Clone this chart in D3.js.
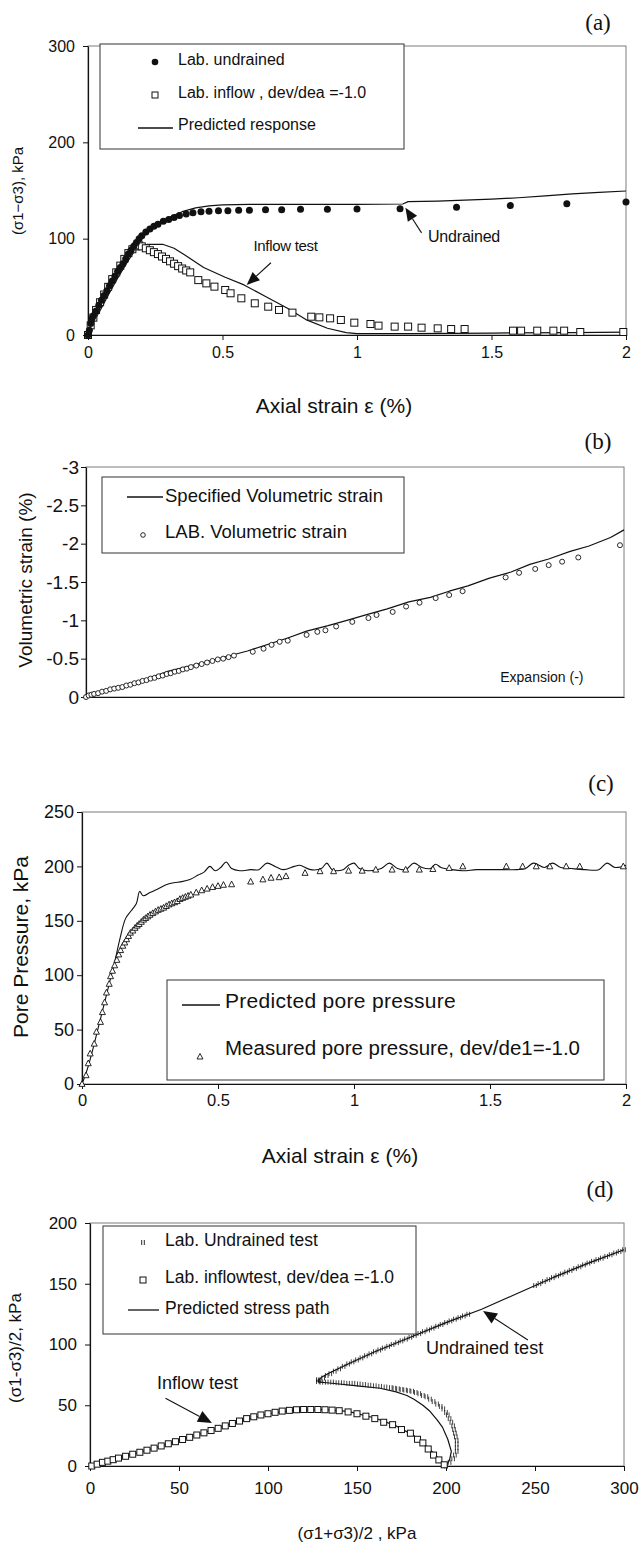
<!DOCTYPE html>
<html><head><meta charset="utf-8">
<script src="https://cdn.jsdelivr.net/npm/d3@7"></script>
<style>body{margin:0;background:#fff}svg{display:block}</style>
</head><body>
<svg id="c" width="640" height="1545"></svg>
<script>
// ---------- DATA ----------
// (a) deviator stress vs axial strain
const strainTicks = [0, 0.5, 1, 1.5, 2];
const strainLabels = ["0", "0.5", "1", "1.5", "2"];
const devTicks = [0, 100, 200, 300];
const devLabels = ["0", "100", "200", "300"];
const labUndrainedA = [[0,0],[0.005,5],[0.01,12],[0.015,17],[0.02,20],[0.03,25],[0.04,31],[0.05,36],[0.06,41],[0.07,46],[0.08,51],[0.09,56],[0.10,61],[0.11,66],[0.12,70],[0.13,74],[0.14,79],[0.15,84],[0.16,88],[0.17,92],[0.18,96],[0.19,100],[0.20,103],[0.215,107],[0.23,110],[0.245,113],[0.26,115],[0.28,118],[0.30,120],[0.32,122],[0.34,124],[0.365,125.5],[0.39,127],[0.42,128],[0.45,128.5],[0.485,129],[0.52,129],[0.56,129.5],[0.60,129.5],[0.66,130],[0.72,130],[0.79,130.5],[0.89,130.5],[1.0,130.8],[1.16,131],[1.37,132.5],[1.57,134.3],[1.78,136.3],[2.0,138]];
const labInflowA = [[0,0],[0.01,10],[0.02,18],[0.03,26],[0.045,34],[0.06,42],[0.075,50],[0.09,58],[0.105,65],[0.12,72],[0.135,79],[0.15,85],[0.165,89],[0.18,92],[0.19,93],[0.2,92],[0.215,90],[0.23,88],[0.245,86],[0.26,84],[0.275,81.5],[0.29,79],[0.305,76.5],[0.32,74],[0.335,71.5],[0.35,69],[0.365,67],[0.38,65],[0.41,57],[0.44,53.6],[0.47,50.2],[0.51,46.7],[0.53,43.3],[0.57,38.1],[0.62,32.9],[0.67,29.4],[0.71,26],[0.76,23.2],[0.83,19],[0.86,18.3],[0.9,17.3],[0.94,15.6],[0.99,12.8],[1.05,11.4],[1.08,9.7],[1.14,8.7],[1.19,8.7],[1.24,7.6],[1.3,6.9],[1.35,6.2],[1.4,6.2],[1.58,4.5],[1.61,4.5],[1.67,4.5],[1.73,4.5],[1.77,4.5],[1.83,3.1],[1.99,3.1]];
const predUndrainedA = [[0,0],[0.02,15],[0.05,32],[0.08,48],[0.11,63],[0.14,77],[0.17,90],[0.2,101],[0.25,113],[0.3,122],[0.35,128],[0.4,132],[0.45,134],[0.5,135],[0.6,135.5],[0.8,135.5],[1.0,135.5],[1.17,136],[1.19,138.5],[1.3,139],[1.4,140],[1.5,141],[1.6,142.5],[1.7,144.5],[1.8,146.5],[1.9,148],[2.0,149.5]];
const predInflowA = [[0,0],[0.02,13],[0.05,28],[0.08,44],[0.11,59],[0.14,73],[0.17,86],[0.19,92],[0.22,94],[0.28,94],[0.32,90],[0.36,83],[0.43,70],[0.51,60],[0.58,52],[0.66,40],[0.74,28],[0.81,16],[0.89,7],[0.96,2.5],[1.0,1.5],[1.2,1.5],[1.5,2],[1.8,2.5],[2.0,3]];

// (b) volumetric strain
const volTicks = [0, -0.5, -1, -1.5, -2, -2.5, -3];
const volLabels = ["0", "-0.5", "-1", "-1.5", "-2", "-2.5", "-3"];
const specVolB = [[0,0],[0.15,-0.14],[0.3,-0.33],[0.45,-0.46],[0.6,-0.6],[0.75,-0.77],[0.82,-0.86],[0.9,-0.93],[0.97,-1.0],[1.05,-1.08],[1.12,-1.15],[1.2,-1.24],[1.28,-1.3],[1.35,-1.38],[1.42,-1.45],[1.5,-1.55],[1.58,-1.63],[1.65,-1.73],[1.72,-1.8],[1.8,-1.9],[1.87,-1.97],[1.95,-2.08],[2.0,-2.18]];
const labVolB = [[0,0],[0.01,-0.02],[0.02,-0.03],[0.03,-0.04],[0.045,-0.05],[0.06,-0.07],[0.075,-0.08],[0.09,-0.1],[0.105,-0.11],[0.12,-0.12],[0.135,-0.13],[0.15,-0.15],[0.165,-0.16],[0.18,-0.18],[0.195,-0.19],[0.21,-0.21],[0.225,-0.22],[0.24,-0.24],[0.255,-0.25],[0.27,-0.27],[0.285,-0.28],[0.3,-0.3],[0.315,-0.31],[0.33,-0.33],[0.345,-0.34],[0.36,-0.36],[0.375,-0.37],[0.39,-0.39],[0.41,-0.41],[0.43,-0.43],[0.45,-0.45],[0.47,-0.47],[0.49,-0.49],[0.51,-0.5],[0.53,-0.52],[0.55,-0.54],[0.62,-0.59],[0.66,-0.63],[0.69,-0.68],[0.72,-0.72],[0.75,-0.735],[0.82,-0.81],[0.86,-0.85],[0.89,-0.87],[0.93,-0.92],[0.99,-0.98],[1.05,-1.03],[1.08,-1.07],[1.14,-1.11],[1.19,-1.18],[1.24,-1.23],[1.3,-1.29],[1.35,-1.33],[1.4,-1.38],[1.56,-1.56],[1.61,-1.62],[1.67,-1.67],[1.72,-1.72],[1.77,-1.765],[1.83,-1.82],[1.985,-1.98]];

// (c) pore pressure
const poreTicks = [0, 50, 100, 150, 200, 250];
const poreLabels = ["0", "50", "100", "150", "200", "250"];
const predPoreC = [[0,0],[0.02,14],[0.04,32],[0.06,52],[0.08,72],[0.1,92],[0.12,112],[0.14,134],[0.16,152],[0.18,159],[0.2,166],[0.212,177],[0.225,173],[0.25,176],[0.277,179],[0.307,183],[0.337,185],[0.367,186],[0.397,188],[0.427,192],[0.45,195],[0.47,200],[0.49,196],[0.51,199],[0.53,204],[0.55,198],[0.58,196],[0.62,197],[0.65,197],[0.68,203],[0.71,200],[0.74,197],[0.78,200],[0.8,201],[0.84,197],[0.88,198],[0.9,203],[0.92,197],[0.96,197],[0.98,201],[1.0,203],[1.02,198],[1.05,196],[1.1,198],[1.13,203],[1.16,198],[1.19,197],[1.22,203],[1.25,199],[1.28,198],[1.3,202],[1.32,199],[1.36,197],[1.4,196],[1.45,197],[1.5,197],[1.55,197],[1.6,197],[1.63,198],[1.66,203],[1.7,199],[1.73,203],[1.76,199],[1.8,198],[1.85,197],[1.9,197],[1.93,203],[1.96,199],[2.0,201]];
const measPoreC = [[0,0],[0.015,8],[0.023,19],[0.03,28],[0.045,37],[0.053,48],[0.068,57],[0.075,66],[0.083,75],[0.09,84],[0.1,92],[0.105,99],[0.112,104],[0.12,109],[0.128,114],[0.135,119],[0.142,123],[0.15,127],[0.157,130],[0.164,133],[0.171,136],[0.178,139],[0.187,141],[0.195,143.5],[0.203,145.5],[0.21,147],[0.218,149],[0.226,151],[0.234,152.5],[0.242,154],[0.25,155.5],[0.26,157],[0.27,158.5],[0.28,160],[0.29,161],[0.3,162],[0.31,163.5],[0.32,165],[0.33,166],[0.34,167],[0.35,168],[0.36,170],[0.37,171],[0.38,172],[0.39,173],[0.4,174],[0.42,176],[0.44,178],[0.46,179.5],[0.48,181],[0.5,182],[0.52,183],[0.55,183.5],[0.62,186],[0.665,188],[0.695,189.5],[0.725,190],[0.75,191],[0.82,194],[0.875,195.5],[0.925,195.5],[0.98,196],[1.03,196],[1.08,197],[1.14,197],[1.19,197],[1.24,197],[1.29,197.5],[1.35,198.5],[1.4,200],[1.56,200],[1.62,200],[1.67,200],[1.72,200],[1.78,200],[1.83,200],[1.99,200]];

// (d) stress paths
const pTicks = [0, 50, 100, 150, 200, 250, 300];
const pLabels = ["0", "50", "100", "150", "200", "250", "300"];
const qTicks = [0, 50, 100, 150, 200];
const qLabels = ["0", "50", "100", "150", "200"];
const labUndrainedD = [[200,0],[202,3],[204,6],[205,9],[206,12],[206,15],[206,18],[206,21],[205.5,24],[205,27],[204.5,30],[204,33],[203,36],[202,39],[201,42],[200,44],[198.5,47],[197,49],[195,51],[193,53],[191,55],[189,57],[187,58],[185,59.5],[183,60.5],[181,61.5],[179,62],[177,62.5],[175,63],[173,63.5],[171,64],[169,64.5],[166,65],[163,65.5],[160,66],[157,66.5],[154,67],[151,67.5],[148,68],[145,68],[142,68.5],[139,68.5],[136,69],[133,69],[130,69],[128,69.5],[128,71],
  [129,70.5],[131,72.5],[133,74.5],[135,76],[137.5,78],[140,80],[142.5,82],[145,84],[147.5,85.7],[150,87.3],[152.5,89],[155,90.7],[157.5,92.3],[160,94],[162.5,95.5],[165,97],[167.5,98.5],[170,100],[172.5,101.5],[175,103],[177.5,104.5],[180,106],[182.5,107.5],[185,109],[187.5,110.5],[190,112],[192.5,113.5],[195,115],[197.5,116.5],[200,118],[202.5,119.4],[205,120.8],[207.5,122.1],[210,123.5],[212.5,124.9],
  [250,148.5],[252.5,150.1],[255,151.8],[257.5,153.4],[260,155],[262.5,156.5],[265,158],[267.5,159.5],[270,161],[272.5,162.5],[275,164],[277.5,165.5],[280,167],[282.5,168.4],[285,169.8],[287.5,171.1],[290,172.5],[292.5,173.9],[295,175.3],[297.5,176.6],[300,178]];
const labInflowD = [[1,0],[4,1.5],[7,3],[10,4],[13,5.2],[16,6.5],[20,8],[24,9.7],[28,11.3],[32,13],[36,14.7],[40,16.5],[44,18.3],[48,20],[52,21.8],[56,23.6],[60,25.5],[64,27.3],[68,29.2],[72,31],[76,33],[80,35],[84,37],[88,39],[92,40.5],[96,42],[100,43],[104,44.2],[108,45.2],[112,45.8],[116,46.3],[120,46.5],[124,46.5],[128,46.5],[132,46.3],[136,46],[140,45.5],[145,44.5],[150,43],[155,41],[160,39],[165,36],[170,34],[175,30],[180,27],[184,22],[187,19],[190,14],[193,9],[196,5],[199,1]];
const predUndrainedD = [[200,0],[202,5],[203,12],[201,22],[198,32],[195,38],[191,45],[187,50],[182,55],[178,58],[172,61],[163,64],[150,66],[140,67.5],[133,68.5],[129,69],[128,70],[130,73],[135,77],[145,84],[160,94],[180,106],[200,118],[220,129],[240,142],[260,155],[280,167],[300,178]];
const predInflowD = [[0,0],[20,8],[40,16.5],[60,25.5],[80,35],[100,43],[115,46],[130,46.5],[145,45],[160,39.5],[172,33],[182,25],[190,15],[196,6],[200,0]];

// ---------- DRAWING ----------
const SANS = "'Liberation Sans', Arial, Helvetica, sans-serif";
const SERIF = "'Liberation Serif', 'Times New Roman', serif";
const INK = "#111";
const svg = d3.select("#c");
svg.append("rect").attr("width", 640).attr("height", 1545).attr("fill", "#fff");

const pa = {x: d3.scaleLinear().domain([0, 2]).range([88, 626]), y: d3.scaleLinear().domain([0, 300]).range([335, 46])};
const pb = {x: d3.scaleLinear().domain([0, 2]).range([86, 624]), y: d3.scaleLinear().domain([0, -3]).range([697, 467])};
const pc = {x: d3.scaleLinear().domain([0, 2]).range([82, 626]), y: d3.scaleLinear().domain([0, 250]).range([1084, 812])};
const pd = {x: d3.scaleLinear().domain([0, 300]).range([90, 624]), y: d3.scaleLinear().domain([0, 200]).range([1466, 1223])};

function txt(x, y, s, size, opt = {}) {
  const t = svg.append("text").attr("x", x).attr("y", y).text(s)
    .attr("font-family", opt.family || SANS).attr("font-size", size)
    .attr("fill", INK).attr("dominant-baseline", "central")
    .attr("text-anchor", opt.anchor || "start");
  if (opt.rotate) t.attr("transform", `rotate(-90 ${x} ${y})`);
  if (opt.ls) t.attr("letter-spacing", opt.ls);
  return t;
}

function axes(p, c) {
  const [x0, x1] = p.x.range(), [yb, yt] = p.y.range();
  svg.append("rect").attr("x", x0).attr("y", yt).attr("width", x1 - x0).attr("height", yb - yt)
    .attr("fill", "none").attr("stroke", "#7d7d7d").attr("stroke-width", 1);
  const gy = svg.append("g").attr("transform", `translate(${x0},0)`)
    .call(d3.axisLeft(p.y).tickValues(c.yTicks).tickFormat((d, i) => c.yLabels[i])
      .tickSize(5).tickSizeOuter(0).tickPadding(c.yPad));
  gy.select(".domain").attr("stroke", INK).attr("stroke-width", 1.2);
  gy.selectAll(".tick line").attr("stroke", INK);
  gy.selectAll("text").attr("font-size", c.yFont).attr("font-family", SANS).attr("fill", INK);
  const gx = svg.append("g").attr("transform", `translate(0,${yb})`)
    .call(d3.axisBottom(p.x).tickValues(c.xTicks).tickFormat((d, i) => c.xLabels[i])
      .tickSize(5).tickSizeOuter(0).tickPadding(c.xPad));
  gx.select(".domain").attr("stroke", INK).attr("stroke-width", 1.2);
  gx.selectAll(".tick line").attr("stroke", INK);
  gx.selectAll("text").attr("font-size", c.xFont).attr("font-family", SANS).attr("fill", INK);
}

function path(p, data, curve, w = 1.2) {
  svg.append("path").datum(data)
    .attr("d", d3.line().x(d => p.x(d[0])).y(d => p.y(d[1])).curve(curve || d3.curveLinear))
    .attr("fill", "none").attr("stroke", INK).attr("stroke-width", w).attr("stroke-linejoin", "round");
}
function dots(p, data, r) {
  svg.append("g").selectAll("circle").data(data).join("circle")
    .attr("cx", d => p.x(d[0])).attr("cy", d => p.y(d[1])).attr("r", r).attr("fill", INK);
}
function circles(p, data, r) {
  svg.append("g").selectAll("circle").data(data).join("circle")
    .attr("cx", d => p.x(d[0])).attr("cy", d => p.y(d[1])).attr("r", r)
    .attr("fill", "#fff").attr("stroke", INK).attr("stroke-width", 0.9);
}
function squares(p, data, s) {
  svg.append("g").selectAll("rect").data(data).join("rect")
    .attr("x", d => p.x(d[0]) - s / 2).attr("y", d => p.y(d[1]) - s / 2).attr("width", s).attr("height", s)
    .attr("fill", "#fff").attr("stroke", INK).attr("stroke-width", 1);
}
function triangles(p, data, s) {
  svg.append("g").selectAll("path").data(data).join("path")
    .attr("d", d => { const x = p.x(d[0]), y = p.y(d[1]); return `M${x},${y - s * 0.55}L${x + s / 2},${y + s * 0.4}L${x - s / 2},${y + s * 0.4}Z`; })
    .attr("fill", "#fff").attr("stroke", INK).attr("stroke-width", 0.9);
}
function ticksMark(p, data) {
  svg.append("g").selectAll("path").data(data).join("path")
    .attr("d", d => { const x = p.x(d[0]), y = p.y(d[1]); return `M${x - 1.3},${y - 2.5}V${y + 2.5}M${x + 1.3},${y - 2.5}V${y + 2.5}`; })
    .attr("fill", "none").attr("stroke", INK).attr("stroke-width", 0.8);
}
function arrow(p, from, to, len = 13, half = 5.5) {
  const x1 = p.x(from[0]), y1 = p.y(from[1]), x2 = p.x(to[0]), y2 = p.y(to[1]);
  const dx = x2 - x1, dy = y2 - y1, L = Math.hypot(dx, dy), ux = dx / L, uy = dy / L;
  const bx = x2 - ux * len, by = y2 - uy * len;
  svg.append("line").attr("x1", x1).attr("y1", y1).attr("x2", bx).attr("y2", by).attr("stroke", INK).attr("stroke-width", 1.1);
  svg.append("path").attr("d", `M${x2},${y2}L${bx - uy * half},${by + ux * half}L${bx + uy * half},${by - ux * half}Z`).attr("fill", INK);
}
function box(x, y, w, h) {
  svg.append("rect").attr("x", x).attr("y", y).attr("width", w).attr("height", h)
    .attr("fill", "#fff").attr("stroke", "#333").attr("stroke-width", 1);
}
function hline(x1, x2, y) {
  svg.append("line").attr("x1", x1).attr("x2", x2).attr("y1", y).attr("y2", y).attr("stroke", INK).attr("stroke-width", 1.3);
}

// ---- panel (a) ----
axes(pa, {yTicks: devTicks, yLabels: devLabels, yPad: 8, yFont: 16, xTicks: strainTicks, xLabels: strainLabels, xPad: 7, xFont: 16});
path(pa, predUndrainedA);
path(pa, predInflowA);
squares(pa, labInflowA, 7);
dots(pa, labUndrainedA, 3.5);
arrow(pa, [0.68, 75], [0.59, 52]);
arrow(pa, [1.24, 106], [1.18, 132]);
txt(pa.x(0.615), pa.y(93), "Inflow test", 15, {ls: -0.3});
txt(pa.x(1.264), pa.y(102), "Undrained", 16, {ls: -0.2});
box(100, 44, 304, 105);
svg.append("circle").attr("cx", 155).attr("cy", 62).attr("r", 3.3).attr("fill", INK);
txt(178, 59, "Lab. undrained", 16);
svg.append("rect").attr("x", 152).attr("y", 92).attr("width", 6).attr("height", 6).attr("fill", "#fff").attr("stroke", INK);
txt(178, 92.5, "Lab. inflow , dev/dea =-1.0", 16);
hline(138, 173, 128);
txt(178, 124.5, "Predicted response", 16);
txt(17, 191, "(σ1−σ3), kPa", 15, {anchor: "middle", rotate: true});
txt(334, 405, "Axial strain ε (%)", 21, {anchor: "middle"});
txt(598, 22, "(a)", 23, {anchor: "middle", family: SERIF});

// ---- panel (b) ----
axes(pb, {yTicks: volTicks, yLabels: volLabels, yPad: 2, yFont: 19, xTicks: [], xLabels: [], xPad: 5, xFont: 16});
path(pb, specVolB);
circles(pb, labVolB, 2.5);
txt(pb.x(1.54), pb.y(-0.26), "Expansion (-)", 14);
box(102, 477, 302, 76);
hline(127, 163, 497);
txt(165, 495, "Specified Volumetric strain", 18.5);
svg.append("circle").attr("cx", 143).attr("cy", 535).attr("r", 2.3).attr("fill", "#fff").attr("stroke", INK).attr("stroke-width", 0.9);
txt(165, 531, "LAB. Volumetric strain", 18.5);
txt(25, 580, "Volumetric strain (%)", 19, {anchor: "middle", rotate: true});
txt(598, 441, "(b)", 23, {anchor: "middle", family: SERIF});

// ---- panel (c) ----
axes(pc, {yTicks: poreTicks, yLabels: poreLabels, yPad: 3, yFont: 18, xTicks: strainTicks, xLabels: strainLabels, xPad: 5, xFont: 16.5});
path(pc, predPoreC, d3.curveCatmullRom.alpha(0.5), 1.1);
triangles(pc, measPoreC, 6);
box(167, 980, 437, 100);
hline(182, 220, 1005);
txt(225, 1000, "Predicted pore pressure", 21, {ls: 0.3});
svg.append("path").attr("d", "M200,1053.5L203,1059L197,1059Z").attr("fill", "#fff").attr("stroke", INK).attr("stroke-width", 0.9);
txt(225, 1047, "Measured pore pressure, dev/de1=-1.0", 20.5);
txt(20, 947, "Pore Pressure, kPa", 21, {anchor: "middle", rotate: true});
txt(340, 1155, "Axial strain ε (%)", 21, {anchor: "middle"});
txt(601, 783, "(c)", 23, {anchor: "middle", family: SERIF});

// ---- panel (d) ----
axes(pd, {yTicks: qTicks, yLabels: qLabels, yPad: 8, yFont: 17, xTicks: pTicks, xLabels: pLabels, xPad: 11, xFont: 17});
path(pd, predUndrainedD);
path(pd, predInflowD);
ticksMark(pd, labUndrainedD);
squares(pd, labInflowD, 6);
arrow(pd, [246, 103.7], [220.8, 127.6], 14, 6);
arrow(pd, [42.4, 55.7], [68.5, 35.4], 14, 6);
txt(pd.x(188.8), pd.y(97), "Undrained  test", 18);
txt(pd.x(37.6), pd.y(68.3), "Inflow test", 18);
box(103, 1226, 313, 108);
svg.append("path").attr("d", "M141.7,1240V1245M144.3,1240V1245").attr("stroke", INK).attr("stroke-width", 0.9);
txt(165, 1240, "Lab. Undrained test", 17.5);
svg.append("rect").attr("x", 140).attr("y", 1277).attr("width", 6).attr("height", 6).attr("fill", "#fff").attr("stroke", INK);
txt(165, 1277, "Lab. inflowtest, dev/dea =-1.0", 17.5);
hline(128, 159, 1310);
txt(165, 1308, "Predicted stress path", 17.5);
txt(15, 1348, "(σ1-σ3)/2,  kPa", 17, {anchor: "middle", rotate: true});
txt(357, 1533, "(σ1+σ3)/2 ,  kPa", 17, {anchor: "middle"});
txt(600, 1189, "(d)", 23, {anchor: "middle", family: SERIF});
</script>
</body></html>
